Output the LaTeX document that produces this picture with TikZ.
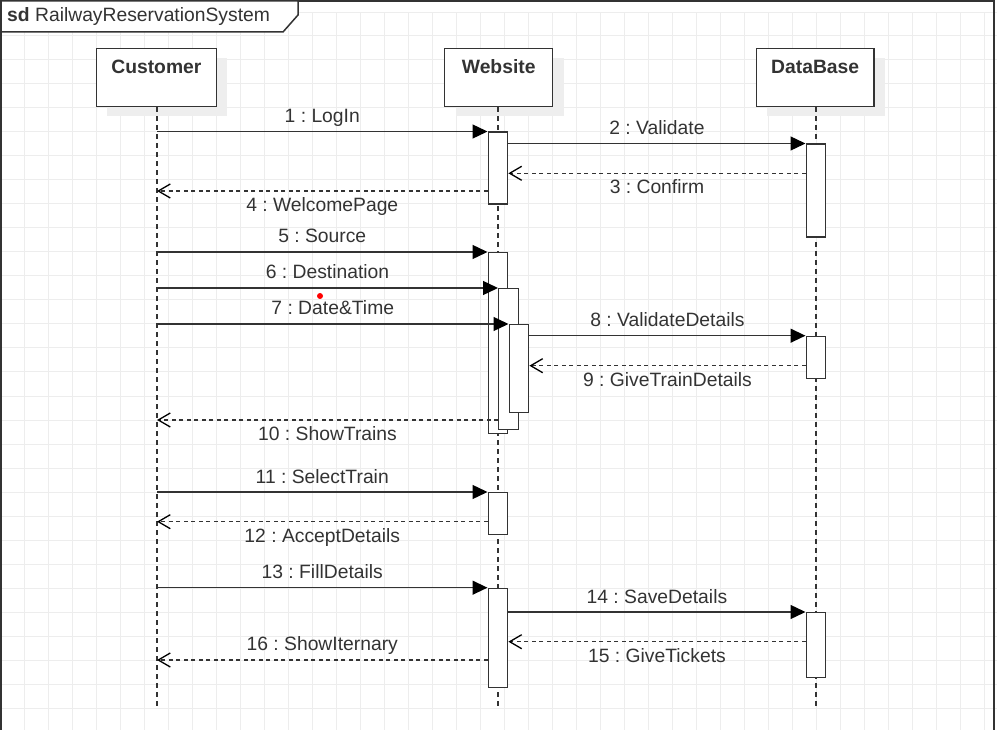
\documentclass[tikz,border=0pt]{standalone}
\usepackage{fontspec}
\setmainfont{Liberation Sans}
\usepackage{tikz}
\usetikzlibrary{arrows.meta, shadows}
\definecolor{linec}{HTML}{333333}
\definecolor{gridc}{HTML}{EDEDED}
\definecolor{shadowc}{HTML}{EEEEEE}
\frenchspacing
\tikzset{
>={Triangle[length=15pt, width=14pt, color=black]}, % filled heads for the calls
every node/.style={font=\fontsize{19.3}{23}\selectfont, text=linec},
gridline/.style={draw=gridc, line width=1pt},
frame/.style={draw=linec, line width=1.5pt},
head/.style={draw=linec, line width=1.4pt, fill=white, anchor=north west, inner sep=0pt,
  text height=25pt, text depth=33pt, font=\fontsize{19.3}{23}\selectfont\bfseries,
  general shadow={fill=shadowc, shadow xshift=11pt, shadow yshift=-10pt}}, % lifeline heads
life/.style={draw=linec, line width=1.3pt, dash pattern=on 5pt off 4pt},
act/.style={draw=linec, line width=1.4pt, fill=white, anchor=north west, minimum width=19.5pt, inner sep=0pt}, % activation bars
msg/.style={draw=linec, line width=1.4pt, ->},
ret/.style={draw=linec, line width=1.3pt, dash pattern=on 4pt off 3.5pt, -{Straight Barb[length=12pt, width=14pt, color=black]}},
msgup/.style={anchor=base, yshift=9pt, inner sep=0pt},
msgdown/.style={anchor=base, yshift=-20.5pt, inner sep=0pt},
}
\begin{document}
\begin{tikzpicture}[x=1pt, y=-1pt]
\useasboundingbox (0,0) rectangle (997,730);
% background grid and frame
\draw[gridline, yshift=-12pt] (0,0) grid[step=24pt] (997,720);
\draw[frame] (1,730) -- (1,1) -- (994,1) -- (994,730);
\draw[frame, fill=white] (1,1) -- (298,1) -- (298,15) -- (283,32) -- (1,32) -- cycle;
\node[anchor=base west, inner sep=0pt] (title) at (7,21.5) {\textbf{sd} RailwayReservationSystem};

% lifelines
\node[head, minimum width=120pt] (cust) at (95.7,47.7) {Customer};
\node[head, minimum width=108pt] (web) at (444,47.7) {Website};
\node[head, minimum width=117.6pt] (db) at (755.7,47.7) {DataBase};
\coordinate (custEnd) at (157,706);
\coordinate (webEnd) at (498,706);
\coordinate (dbEnd) at (816,706);
\draw[life] (cust.south -| custEnd) -- (custEnd);
\draw[life] (web.south -| webEnd) -- (webEnd);
\draw[life] (db.south -| dbEnd) -- (dbEnd);

% activation bars
\node[act, minimum height=72pt] (w1) at (487.5,131.5) {};
\node[act, minimum height=93pt] (d1) at (805.5,143.5) {};
\node[act, minimum height=181pt] (wA) at (487.5,252) {};
\node[act, minimum height=141pt] (wB) at (498,288) {};
\node[act, minimum height=88pt] (wC) at (508.5,324) {};
\node[act, minimum height=42pt] (d2) at (805.5,335.7) {};
\node[act, minimum height=41.5pt] (w3) at (487.5,492) {};
\node[act, minimum height=99pt] (w4) at (487.5,587.7) {};
\node[act, minimum height=64.7pt] (d3) at (805.5,612) {};

% messages
\draw[msg] (custEnd |- w1.north west) -- node[msgup] (l1) {1 : LogIn} (w1.north west);
\draw[msg] (w1.east |- d1.north west) -- node[msgup] (l2) {2 : Validate} (d1.north west);
\draw[ret] (d1.west |- 0,173.3) -- node[msgdown] (l3) {3 : Confirm} (w1.east |- 0,173.3);
\draw[ret] (w1.west |- 0,191) -- node[msgdown] (l4) {4 : WelcomePage} (custEnd |- 0,191);
\draw[msg] (custEnd |- wA.north west) -- node[msgup] (l5) {5 : Source} (wA.north west);
\draw[msg] (custEnd |- wB.north west) -- node[msgup] (l6) {6 : Destination} (wB.north west);
\draw[msg] (custEnd |- wC.north west) -- node[msgup] (l7) {7 : Date\&Time} (wC.north west);
\draw[msg] (wC.east |- d2.north west) -- node[msgup] (l8) {8 : ValidateDetails} (d2.north west);
\draw[ret] (d2.west |- 0,365.7) -- node[msgdown] (l9) {9 : GiveTrainDetails} (wC.east |- 0,365.7);
\draw[ret] (wB.west |- 0,420) -- node[msgdown] (l10) {10 : ShowTrains} (custEnd |- 0,420);
\draw[msg] (custEnd |- w3.north west) -- node[msgup] (l11) {11 : SelectTrain} (w3.north west);
\draw[ret] (w3.west |- 0,521.7) -- node[msgdown] (l12) {12 : AcceptDetails} (custEnd |- 0,521.7);
\draw[msg] (custEnd |- w4.north west) -- node[msgup] (l13) {13 : FillDetails} (w4.north west);
\draw[msg] (w4.east |- d3.north west) -- node[msgup] (l14) {14 : SaveDetails} (d3.north west);
\draw[ret] (d3.west |- 0,641.7) -- node[msgdown] (l15) {15 : GiveTickets} (w4.east |- 0,641.7);
\draw[ret] (w4.west |- 0,660) -- node[msgup, yshift=1pt] (l16) {16 : ShowIternary} (custEnd |- 0,660);

\node[circle, fill=red, inner sep=0pt, minimum size=6pt] (dot) at (320,296) {};
\end{tikzpicture}
\end{document}
